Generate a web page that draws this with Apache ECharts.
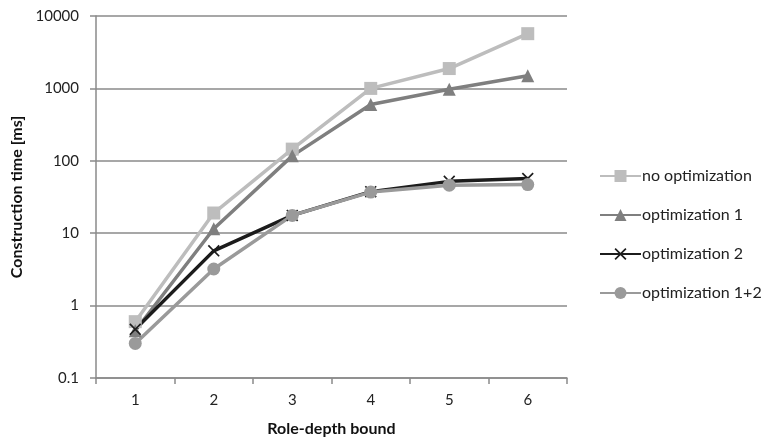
<!DOCTYPE html>
<html><head><meta charset="utf-8">
<script src="https://cdn.jsdelivr.net/npm/echarts@6/dist/echarts.min.js"></script>
<style>html,body{margin:0;padding:0;background:#fff}#c{width:768px;height:442px}</style>
</head><body><div id="c"></div>
<script>
const categories = ['1','2','3','4','5','6'];
const noOptimization = [0.6, 19, 145, 1000, 1880, 5700];
const optimization1 = [0.45, 11.5, 117, 600, 975, 1500];
const optimization2 = [0.47, 5.7, 17.6, 37.5, 52, 57];
const optimization12 = [0.3, 3.2, 17.6, 37, 46, 47];
const yTicks = ['0.1','1','10','100','1000','10000'];

const crossPath = 'path://M0,1 L1,0 L5,4 L9,0 L10,1 L6,5 L10,9 L9,10 L5,6 L1,10 L0,9 L4,5 Z';
const font = 'Lato, Liberation Sans, Arial, sans-serif';
function mk(name, data, color, symbol, size) {
  return { name, type: 'line', data, symbol, symbolSize: size,
    lineStyle: { color, width: 3.5 }, itemStyle: { color },
    emphasis: { disabled: true }, z: 3 };
}
const chart = echarts.init(document.getElementById('c'));
chart.setOption({
  animation: false,
  grid: { left: 96, top: 16, right: 201, bottom: 61, containLabel: false },
  legend: {
    orient: 'vertical', left: 594, top: 163, itemGap: 23, itemWidth: 41, itemHeight: 15,
    textStyle: { fontFamily: font, fontSize: 16, color: '#222', padding: [0,0,0,-4] },
    data: ['no optimization','optimization 1','optimization 2','optimization 1+2']
  },
  xAxis: {
    type: 'category', data: categories, boundaryGap: true,
    name: 'Role-depth bound', nameLocation: 'middle', nameGap: 43,
    nameTextStyle: { fontFamily: font, fontSize: 16, fontWeight: 'bold', color: '#111' },
    axisLine: { lineStyle: { color: '#8a8a8a', width: 1.5 } },
    axisTick: { show: true, length: 6, lineStyle: { color: '#8a8a8a', width: 1.5 } },
    axisLabel: { fontFamily: font, fontSize: 15, color: '#222', margin: 15 }
  },
  yAxis: {
    type: 'log', logBase: 10, min: 0.1, max: 10000,
    name: 'Construction time [ms]', nameLocation: 'middle', nameGap: 68,
    nameTextStyle: { fontFamily: font, fontSize: 16, fontWeight: 'bold', color: '#111' },
    axisLine: { show: true, lineStyle: { color: '#8a8a8a', width: 1.5 } },
    axisTick: { show: true, length: 6, lineStyle: { color: '#8a8a8a', width: 1.5 } },
    splitLine: { show: true, lineStyle: { color: '#8a8a8a', width: 1.5 } },
    axisLabel: { fontFamily: font, fontSize: 15, color: '#222', margin: 17,
      formatter: v => { const i = Math.round(Math.log10(v)) + 1; return yTicks[i] !== undefined ? yTicks[i] : ''; } }
  },
  series: [
    mk('no optimization', noOptimization, '#bdbdbd', 'rect', 13),
    mk('optimization 1', optimization1, '#7f7f7f', 'triangle', 13),
    mk('optimization 2', optimization2, '#1c1c1c', crossPath, 12),
    mk('optimization 1+2', optimization12, '#9a9a9a', 'circle', 13)
  ]
});
</script></body></html>
